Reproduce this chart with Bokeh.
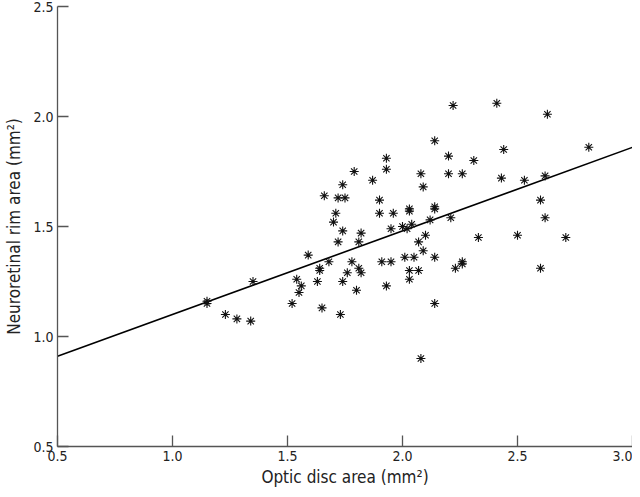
from bokeh.plotting import figure
from bokeh.models import Range1d, FixedTicker, PrintfTickFormatter
from bokeh.embed import file_html
from bokeh.resources import INLINE

# Optic disc area (mm^2)
disc_area = [1.15, 1.15, 1.23, 1.28, 1.34, 1.35, 1.54, 1.56, 1.55, 1.52, 1.63, 1.64, 1.64, 1.65,
             1.66, 1.72, 1.75, 1.71, 1.70, 1.72, 1.59, 1.68, 1.74, 1.79, 1.74, 1.82, 1.81, 1.87,
             1.90, 1.90, 1.93, 1.93, 1.78, 1.81, 1.82, 1.76, 1.91, 1.95, 1.74, 1.80, 1.93, 1.73,
             1.96, 2.03, 2.03, 2.08, 2.09, 2.14, 2.20, 2.20, 2.22, 2.14, 2.14, 2.21, 2.12, 1.95,
             2.00, 2.02, 2.04, 2.10, 2.07, 2.09, 2.01, 2.05, 2.14, 2.03, 2.07, 2.03, 2.14, 2.08,
             2.23, 2.26, 2.26, 2.26, 2.31, 2.33, 2.41, 2.63, 2.44, 2.81, 2.43, 2.53, 2.62, 2.60,
             2.62, 2.50, 2.71, 2.60]
# Neuroretinal rim area (mm^2)
rim_area = [1.15, 1.16, 1.10, 1.08, 1.07, 1.25, 1.26, 1.23, 1.20, 1.15, 1.25, 1.30, 1.31, 1.13,
            1.64, 1.63, 1.63, 1.56, 1.52, 1.43, 1.37, 1.34, 1.69, 1.75, 1.48, 1.47, 1.43, 1.71,
            1.62, 1.56, 1.81, 1.76, 1.34, 1.31, 1.29, 1.29, 1.34, 1.34, 1.25, 1.21, 1.23, 1.10,
            1.56, 1.58, 1.57, 1.74, 1.68, 1.89, 1.82, 1.74, 2.05, 1.59, 1.58, 1.54, 1.53, 1.49,
            1.50, 1.49, 1.51, 1.46, 1.43, 1.39, 1.36, 1.36, 1.36, 1.30, 1.30, 1.26, 1.15, 0.90,
            1.31, 1.34, 1.33, 1.74, 1.80, 1.45, 2.06, 2.01, 1.85, 1.86, 1.72, 1.71, 1.73, 1.62,
            1.54, 1.46, 1.45, 1.31]

# Regression line end points
fit_x = [0.5, 3.0]
fit_y = [0.91, 1.86]

x_ticks = [0.5, 1.0, 1.5, 2.0, 2.5, 3.0]
y_ticks = [0.5, 1.0, 1.5, 2.0, 2.5]

FONT = "'DejaVu Sans Condensed', 'Liberation Sans Narrow', 'Liberation Sans', sans-serif"

p = figure(width=632, height=489, output_backend="svg", toolbar_location=None,
           x_range=Range1d(0.5, 3.0), y_range=Range1d(0.5, 2.5),
           min_border_left=57, min_border_right=0, min_border_top=6, min_border_bottom=40)
p.outline_line_color = None
p.grid.grid_line_color = None
p.background_fill_color = "white"
p.border_fill_color = "white"

p.line(fit_x, fit_y, line_color="black", line_width=1.6)
p.scatter(disc_area, rim_area, marker="asterisk", size=9, line_color="#111111", line_width=1.1)

for ax, ticks in ((p.xaxis[0], x_ticks), (p.yaxis[0], y_ticks)):
    ax.ticker = FixedTicker(ticks=ticks)
    ax.formatter = PrintfTickFormatter(format="%.1f")
    ax.major_tick_in = 11
    ax.major_tick_out = 0
    ax.minor_tick_line_color = None
    ax.axis_line_color = "#555555"
    ax.major_tick_line_color = "#555555"
    ax.axis_line_width = 1.3
    ax.major_tick_line_width = 1.3
    ax.major_label_text_font = FONT
    ax.major_label_text_font_size = "14px"
    ax.major_label_text_color = "#222222"
    ax.axis_label_text_font = FONT
    ax.axis_label_text_font_size = "17px"
    ax.axis_label_text_font_style = "normal"
    ax.axis_label_text_color = "#222222"

p.xaxis.axis_label = "Optic disc area (mm²)"
p.yaxis.axis_label = "Neuroretinal rim area (mm²)"
p.xaxis.major_label_standoff = 4
p.xaxis.axis_label_standoff = 3
p.yaxis.major_label_standoff = 4
p.yaxis.axis_label_standoff = 6

open("out.html", "w").write(file_html(p, INLINE))
